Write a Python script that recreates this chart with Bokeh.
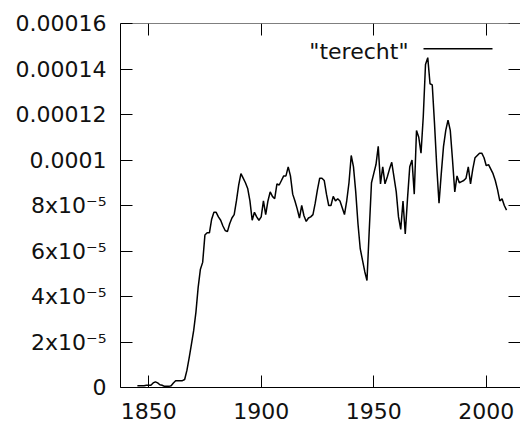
from bokeh.plotting import figure
from bokeh.models import LinearAxis, FixedTicker, Range1d, Label, Arrow
from bokeh.embed import file_html
from bokeh.resources import INLINE

# Relative frequency of "terecht" per year, in units of 1e-5
years = list(range(1845, 2010))
terecht_e5 = [
    0.08, 0.08, 0.08, 0.08, 0.1,                                   # 1845-1849
    0.1, 0.1, 0.2, 0.25, 0.2, 0.12, 0.1, 0.05, 0.05, 0.05,         # 1850s
    0.08, 0.2, 0.3, 0.3, 0.3, 0.3, 0.35, 0.75, 1.3, 1.9,           # 1860s
    2.5, 3.3, 4.4, 5.2, 5.5, 6.7, 6.8, 6.8, 7.4, 7.7,              # 1870s
    7.7, 7.5, 7.35, 7.1, 6.9, 6.85, 7.2, 7.45, 7.6, 8.2,           # 1880s
    8.9, 9.4, 9.2, 9.0, 8.75, 8.2, 7.35, 7.7, 7.5, 7.35,           # 1890s
    7.5, 8.2, 7.6, 8.2, 8.6, 8.4, 8.3, 8.95, 8.9, 9.1,             # 1900s
    9.3, 9.3, 9.7, 9.3, 8.5, 8.2, 7.85, 7.45, 8.0, 7.55,           # 1910s
    7.3, 7.45, 7.5, 7.6, 8.1, 8.7, 9.2, 9.2, 9.1, 8.5,             # 1920s
    8.0, 8.0, 8.4, 8.2, 8.3, 8.2, 7.9, 7.6, 8.2, 9.0,              # 1930s
    10.2, 9.7, 8.6, 7.2, 6.1, 5.6, 5.1, 4.7, 6.9, 9.0,             # 1940s
    9.4, 9.8, 10.6, 8.95, 9.7, 8.95, 9.25, 9.6, 9.9, 9.25,         # 1950s
    8.6, 7.5, 6.95, 8.2, 6.75, 8.3, 9.7, 10.0, 8.5, 11.3,          # 1960s
    11.0, 10.3, 11.9, 14.2, 14.5, 13.35, 13.3, 11.6, 9.7, 8.1,     # 1970s
    9.4, 10.6, 11.3, 11.75, 11.3, 10.0, 8.6, 9.3, 9.0, 9.05,       # 1980s
    9.1, 9.2, 9.7, 8.95, 9.6, 10.1, 10.2, 10.3, 10.3, 10.1,        # 1990s
    9.75, 9.8, 9.6, 9.4, 9.1, 8.7, 8.2, 8.3, 8.0, 7.8,             # 2000s
]
UNIT = 1e-5
terecht = [v * UNIT for v in terecht_e5]

x_ticks = [1850, 1900, 1950, 2000]
y_ticks = [0, 2e-5, 4e-5, 6e-5, 8e-5, 1e-4, 1.2e-4, 1.4e-4, 1.6e-4]
y_labels = ["0", "2x10\u207b\u2075", "4x10\u207b\u2075", "6x10\u207b\u2075", "8x10\u207b\u2075",
            "0.0001", "0.00012", "0.00014", "0.00016"]
series_name = '"terecht"'

X0, X1 = 1837.5, 2015.2
Y0, Y1 = 0, 1.6e-4

FONT = "DejaVu Sans"
FSIZE = "22px"
INK = "#111111"

p = figure(width=520, height=423, output_backend="svg", toolbar_location=None,
           x_range=Range1d(X0, X1), y_range=Range1d(Y0, Y1),
           min_border_left=120, min_border_right=0, min_border_top=23, min_border_bottom=36,
           x_axis_location=None, y_axis_location=None)
p.grid.visible = False
p.outline_line_color = None
p.background_fill_color = "white"
p.border_fill_color = "white"


def make_axis(ticks, labels=None, at=None, show_line=True):
    # ticks point into the plot; unlabelled mirror axes are pinned to the far edges
    ax = LinearAxis(ticker=FixedTicker(ticks=ticks))
    if at is not None:
        ax.fixed_location = at
    ax.major_tick_in = 12
    ax.major_tick_out = 0
    ax.minor_tick_line_color = None
    ax.major_tick_line_color = "black"
    ax.major_tick_line_width = 1
    ax.axis_line_color = "black" if show_line else None
    ax.axis_line_width = 1
    ax.major_label_text_font = FONT
    ax.major_label_text_font_size = FSIZE
    ax.major_label_text_color = INK
    if labels is not None:
        ax.major_label_overrides = dict(zip(ticks, labels))
    return ax


bottom = make_axis(x_ticks)
bottom.major_label_standoff = 15
left = make_axis(y_ticks, y_labels)
left.major_label_standoff = 14
top = make_axis(x_ticks, [""] * len(x_ticks), at=Y1)
top.major_label_standoff = 0
right = make_axis(y_ticks, [""] * len(y_ticks), at=X1, show_line=False)
right.major_label_standoff = 0

p.add_layout(bottom, "below")
p.add_layout(left, "left")
p.add_layout(top, "above")
p.add_layout(right, "right")

p.line(years, terecht, line_color="black", line_width=1.5)

# key: name on the left, line sample on the right
p.add_layout(Label(x=288, y=336, x_units="screen", y_units="screen", text=series_name,
                   text_align="right", text_baseline="middle",
                   text_font=FONT, text_font_size=FSIZE, text_color=INK))
p.add_layout(Arrow(start=None, end=None, x_start=303, y_start=338.7, x_end=372, y_end=338.7,
                   start_units="screen", end_units="screen",
                   line_color="black", line_width=1.5))

open("out.html", "w").write(file_html(p, INLINE))
